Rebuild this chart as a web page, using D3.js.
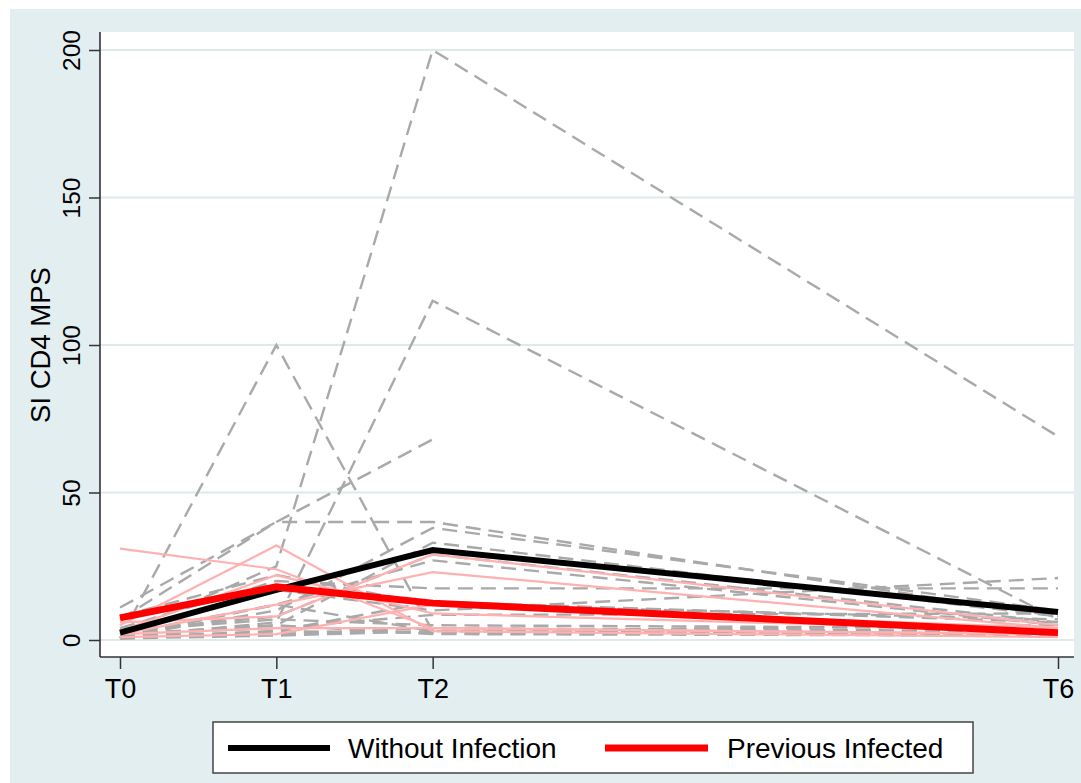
<!DOCTYPE html>
<html><head><meta charset="utf-8">
<script src="https://cdn.jsdelivr.net/npm/d3@7"></script>
<style>body{margin:0;background:#fff}svg{display:block}text{font-family:"Liberation Sans",Arial,sans-serif;fill:#000}</style>
</head><body>
<script>
// ---- data ----
const timeLabels = ["T0", "T1", "T2", "T6"];
const timeValues = [0, 1, 2, 6];
const yTicks = [0, 50, 100, 150, 200];
const yTitle = "SI CD4 MPS";
const legendLabels = ["Without Infection", "Previous Infected"];

// individual trajectories, group "Without Infection" (gray dashed)
const withoutInfection = [
  [2, 25, 200, 69],
  [0.5, 100, 3, 5],
  [1, 6, 115, 7],
  [7, 40, 68, null],
  [11, 40, 40, 8],
  [1, 10, 38, 10],
  [2, 5, 33, 8],
  [3, 8, 29, 6],
  [1, 12, 27, 5],
  [4, 20, 17.5, 17.5],
  [2, 17, 10, 21],
  [1, 3, 13, 6],
  [2, 4, 8.5, 9],
  [1, 2, 4, 3],
  [0.5, 3, 2.4, 2],
  [3, 7, 5, 4],
  [2, 12, 3, 2],
  [1, 5, 2, 1.5],
  [0.5, 1.5, 3, 3],
  [8, 22, 12, 7]
];
// individual trajectories, group "Previous Infected" (pink solid)
const previousInfected = [
  [31, 24, 4, 2],
  [5, 32, 3, 1],
  [3, 22, 9, 3],
  [2, 12, 23, 4],
  [6, 8, 29, 5],
  [2, 4, 4, 2],
  [1, 2, 12, 4]
];
const meanWithout = [2.5, 17, 30.5, 9.5];
const meanPrevious = [7.5, 18, 12.5, 2.5];

// ---- layout ----
const W = 1081, H = 783;
const svg = d3.select("body").append("svg").attr("width", W).attr("height", H);
const bg = "#e3eef0";
svg.append("rect").attr("x", 10).attr("y", 9).attr("width", W - 10).attr("height", H - 9).attr("fill", bg);

const plot = {left: 100, right: 1074, top: 32, bottom: 657};
svg.append("rect").attr("x", plot.left).attr("y", plot.top)
  .attr("width", plot.right - plot.left).attr("height", plot.bottom - plot.top).attr("fill", "#fff");

const x = d3.scaleLinear().domain([0, 6]).range([120, 1058]);
const y = d3.scaleLinear().domain([0, 200]).range([640, 50]);

// gridlines
svg.append("g").selectAll("line").data(yTicks).join("line")
  .attr("x1", plot.left).attr("x2", plot.right)
  .attr("y1", d => y(d)).attr("y2", d => y(d))
  .attr("stroke", "#dde9eb").attr("stroke-width", 2);

const line = d3.line().defined(d => d.v != null).x(d => x(d.t)).y(d => y(d.v));
const toPts = arr => arr.map((v, i) => ({t: timeValues[i], v}));

const g = svg.append("g");
g.selectAll("path.wo").data(withoutInfection).join("path").attr("class", "wo")
  .attr("d", d => line(toPts(d))).attr("fill", "none")
  .attr("stroke", "#a9a9a9").attr("stroke-width", 2.4).attr("stroke-dasharray", "15,8");
g.selectAll("path.pi").data(previousInfected).join("path").attr("class", "pi")
  .attr("d", d => line(toPts(d))).attr("fill", "none")
  .attr("stroke", "#ffb0b0").attr("stroke-width", 2.2);
g.append("path").attr("d", line(toPts(meanWithout))).attr("fill", "none")
  .attr("stroke", "#000").attr("stroke-width", 6);
g.append("path").attr("d", line(toPts(meanPrevious))).attr("fill", "none")
  .attr("stroke", "#ff0000").attr("stroke-width", 7);

// axes
const yAxis = d3.axisLeft(y).tickValues(yTicks).tickSize(11).tickPadding(8);
const ya = svg.append("g").attr("transform", `translate(${plot.left},0)`).call(yAxis);
ya.select(".domain").remove();
ya.selectAll(".tick line").attr("stroke", "#333").attr("stroke-width", 1.5);
ya.selectAll(".tick text").attr("font-size", 24.5).attr("fill", "#000")
  .attr("transform", d => `rotate(-90, -20, 0)`).attr("x", -20).attr("y", 0)
  .attr("text-anchor", "middle").attr("dy", null).attr("font-family", "Liberation Sans, Arial, sans-serif");
svg.append("line").attr("x1", plot.left).attr("x2", plot.left).attr("y1", plot.top).attr("y2", plot.bottom)
  .attr("stroke", "#333").attr("stroke-width", 1.6);

const xAxis = d3.axisBottom(x).tickValues(timeValues).tickFormat((d, i) => timeLabels[i]).tickSize(12).tickPadding(10);
const xa = svg.append("g").attr("transform", `translate(0,${plot.bottom})`).call(xAxis);
xa.select(".domain").remove();
xa.selectAll(".tick line").attr("stroke", "#333").attr("stroke-width", 1.5);
xa.selectAll(".tick text").attr("font-size", 27).attr("fill", "#000").attr("dy", "0.71em")
  .attr("font-family", "Liberation Sans, Arial, sans-serif");
svg.append("line").attr("x1", plot.left).attr("x2", plot.right).attr("y1", plot.bottom).attr("y2", plot.bottom)
  .attr("stroke", "#333").attr("stroke-width", 1.6);

// y title
svg.append("text").attr("transform", `translate(50,345) rotate(-90)`)
  .attr("text-anchor", "middle").attr("font-size", 27.5).text(yTitle);

// legend
const lg = svg.append("g");
lg.append("rect").attr("x", 213).attr("y", 722).attr("width", 760).attr("height", 51)
  .attr("fill", "#fff").attr("stroke", "#444").attr("stroke-width", 1.5);
const legendItems = [
  {label: legendLabels[0], color: "#000", x0: 228, x1: 330, tx: 348, w: 6},
  {label: legendLabels[1], color: "#ff0000", x0: 605, x1: 708, tx: 727, w: 7}
];
legendItems.forEach(it => {
  lg.append("line").attr("x1", it.x0).attr("x2", it.x1).attr("y1", 748).attr("y2", 748)
    .attr("stroke", it.color).attr("stroke-width", it.w);
  lg.append("text").attr("x", it.tx).attr("y", 758).attr("font-size", 28).text(it.label);
});
</script>
</body></html>
